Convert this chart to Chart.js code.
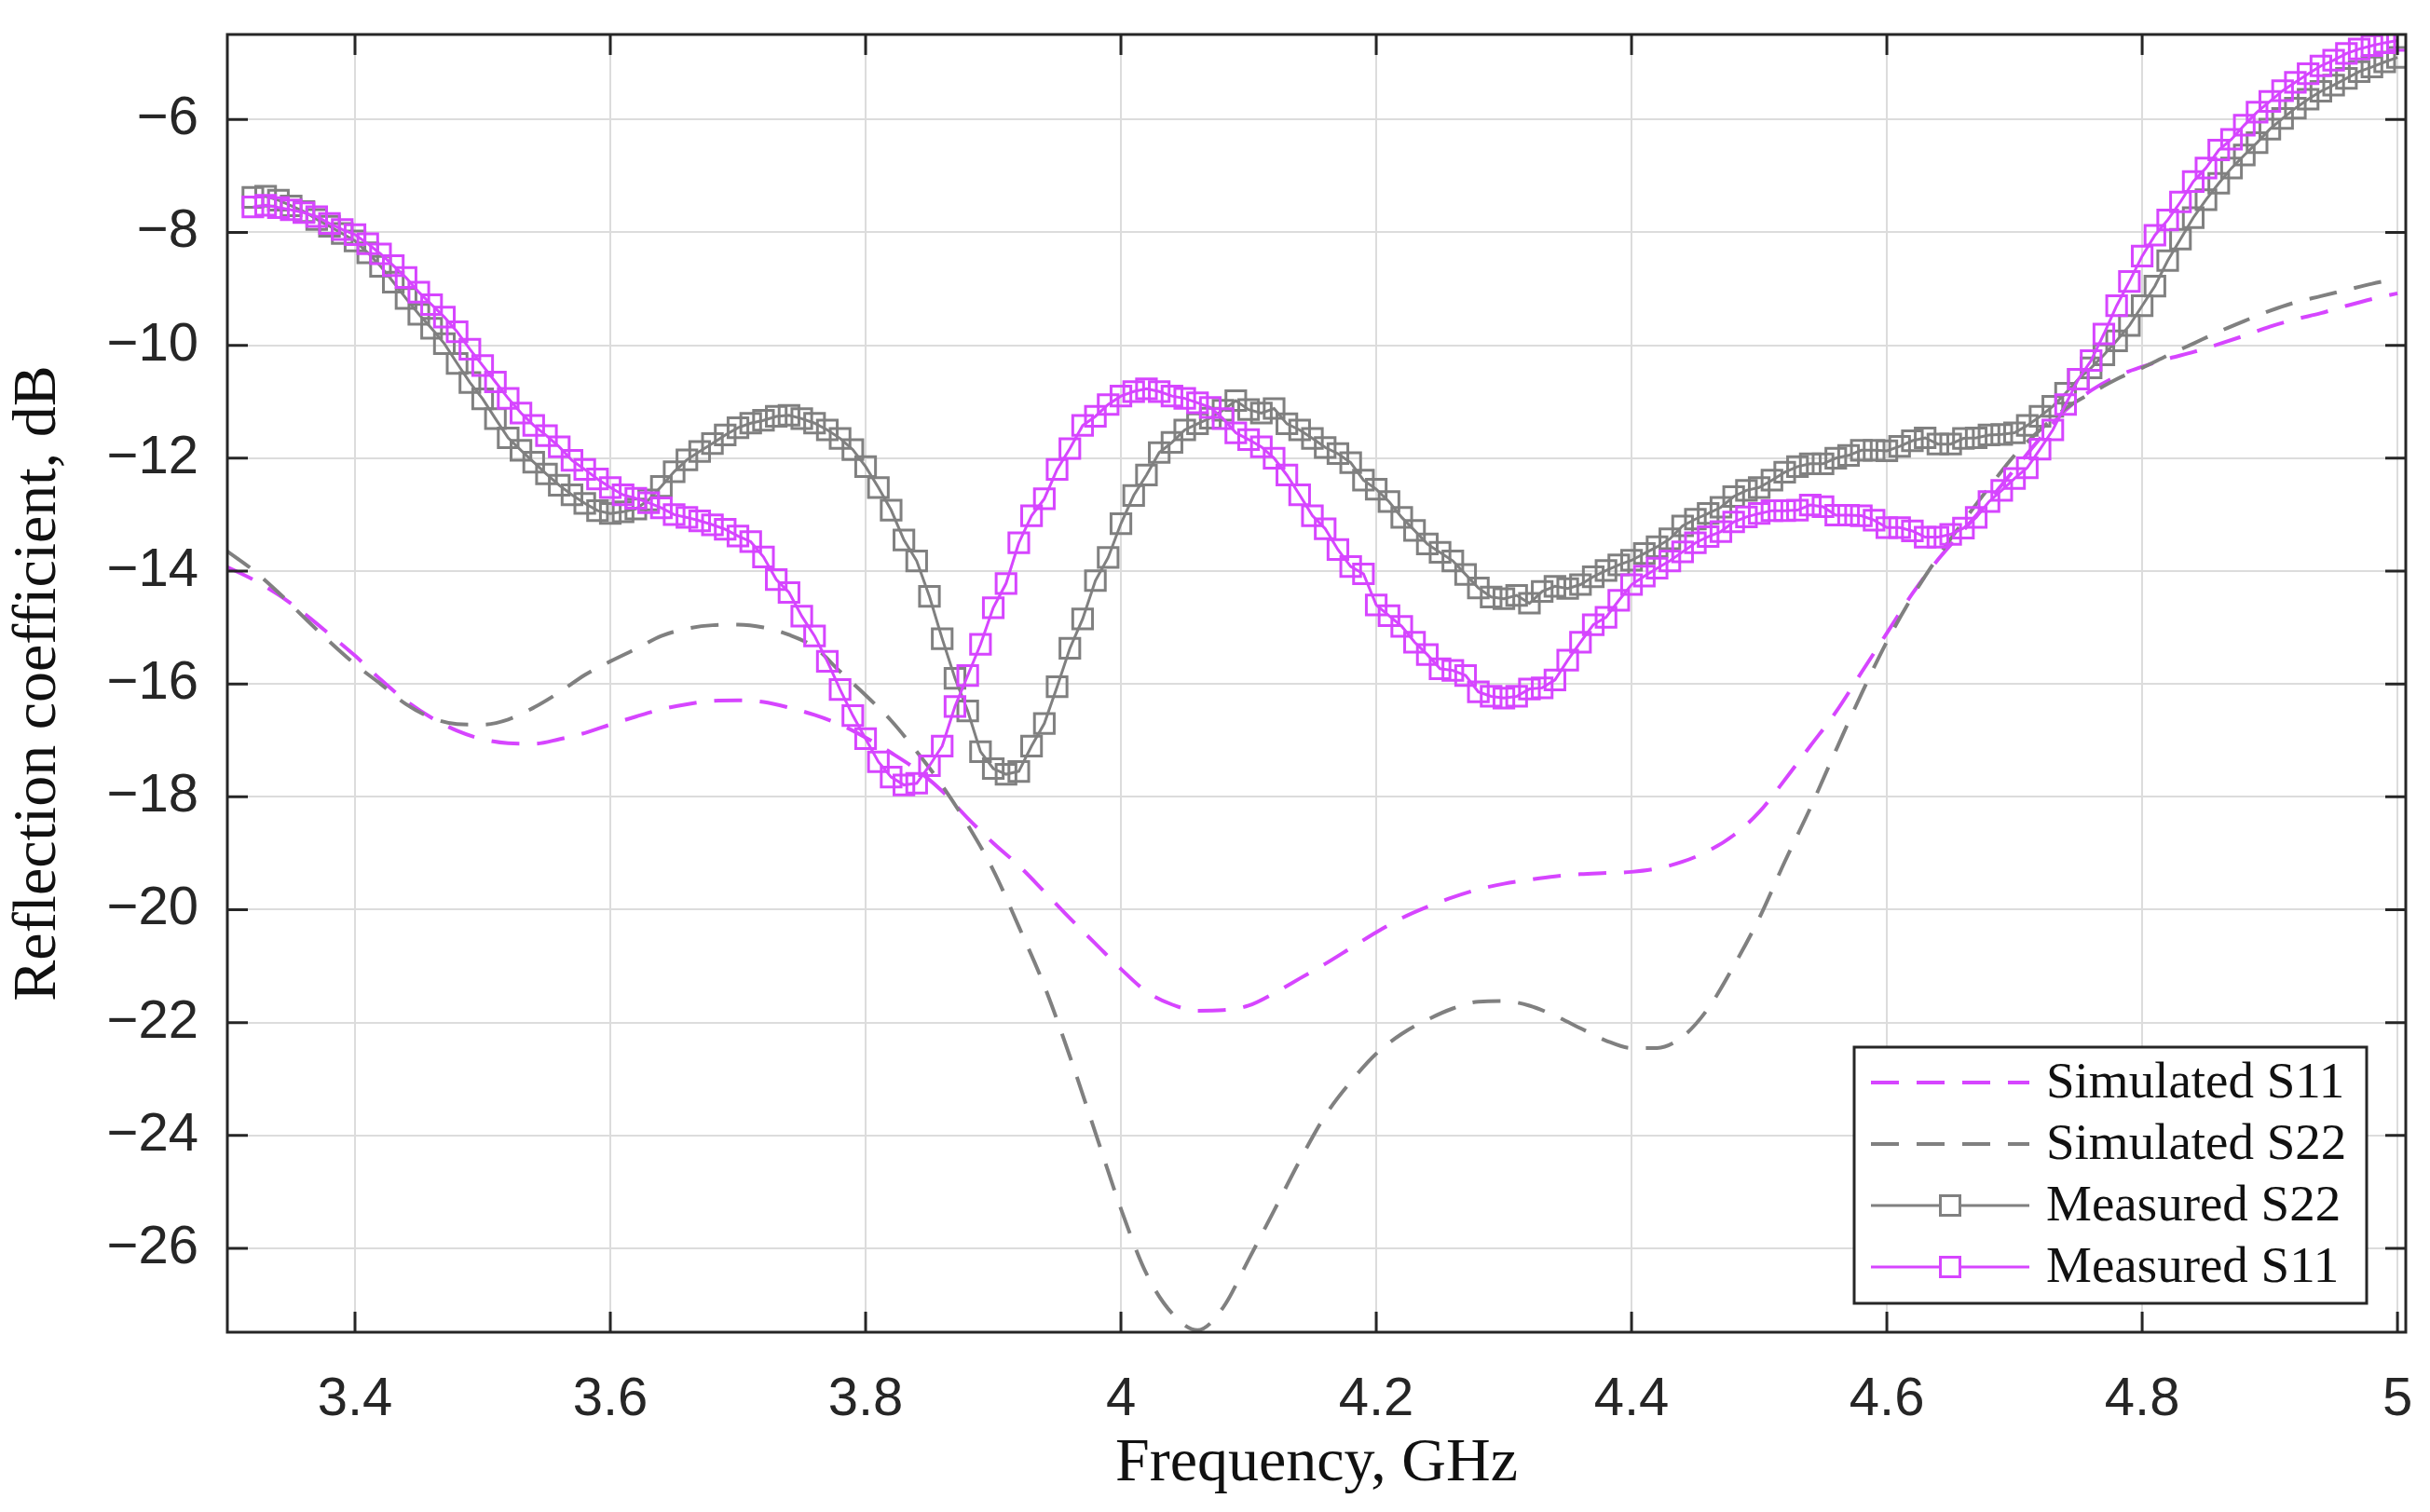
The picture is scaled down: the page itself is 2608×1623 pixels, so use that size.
<!DOCTYPE html>
<html><head><meta charset="utf-8">
<script src="https://cdn.jsdelivr.net/npm/chart.js@4.4.1/dist/chart.umd.min.js"></script>
<style>html,body{margin:0;padding:0;background:#fff;}#wrap{width:2608px;height:1623px;}</style>
</head><body><div id="wrap"><canvas id="c" width="2608" height="1623"></canvas></div>
<script>
// ---------- data ----------
const freqSim = [3.30,3.32,3.34,3.36,3.38,3.40,3.42,3.44,3.46,3.48,
3.50,3.52,3.54,3.56,3.58,3.60,3.62,3.64,3.66,3.68,
3.70,3.72,3.74,3.76,3.78,3.80,3.82,3.84,3.86,3.88,
3.90,3.92,3.94,3.96,3.98,4.00,4.02,4.04,4.06,4.08,
4.10,4.12,4.14,4.16,4.18,4.20,4.22,4.24,4.26,4.28,
4.30,4.32,4.34,4.36,4.38,4.40,4.42,4.44,4.46,4.48,
4.50,4.52,4.54,4.56,4.58,4.60,4.62,4.64,4.66,4.68,
4.70,4.72,4.74,4.76,4.78,4.80,4.82,4.84,4.86,4.88,
4.90,4.92,4.94,4.96,4.98,5.00];
const simS11 = [-13.93,-14.15,-14.42,-14.75,-15.12,-15.50,-15.92,-16.30,-16.60,-16.83,
-16.98,-17.05,-17.06,-16.98,-16.87,-16.72,-16.58,-16.45,-16.36,-16.30,
-16.29,-16.32,-16.42,-16.55,-16.72,-16.95,-17.22,-17.52,-17.90,-18.38,
-18.82,-19.22,-19.68,-20.15,-20.60,-21.05,-21.45,-21.68,-21.79,-21.78,
-21.70,-21.48,-21.22,-20.96,-20.68,-20.40,-20.15,-19.95,-19.78,-19.64,
-19.54,-19.47,-19.41,-19.37,-19.35,-19.33,-19.27,-19.15,-18.96,-18.68,
-18.27,-17.70,-17.10,-16.50,-15.80,-15.10,-14.40,-13.80,-13.28,-12.75,
-12.20,-11.65,-11.15,-10.80,-10.55,-10.38,-10.24,-10.12,-9.98,-9.83,
-9.67,-9.54,-9.43,-9.30,-9.18,-9.08];
const simS22 = [-13.65,-13.98,-14.38,-14.82,-15.25,-15.65,-16.00,-16.36,-16.60,-16.71,
-16.72,-16.63,-16.42,-16.15,-15.84,-15.60,-15.38,-15.15,-15.02,-14.96,
-14.95,-15.00,-15.13,-15.35,-15.78,-16.20,-16.65,-17.20,-17.80,-18.50,
-19.30,-20.30,-21.35,-22.60,-23.95,-25.30,-26.45,-27.15,-27.45,-27.05,
-26.20,-25.33,-24.45,-23.65,-23.05,-22.55,-22.20,-21.95,-21.75,-21.63,
-21.62,-21.70,-21.88,-22.10,-22.32,-22.45,-22.45,-22.25,-21.75,-21.00,
-20.15,-19.15,-18.20,-17.18,-16.18,-15.25,-14.45,-13.75,-13.12,-12.52,
-11.95,-11.50,-11.12,-10.85,-10.60,-10.40,-10.18,-9.97,-9.76,-9.57,
-9.39,-9.24,-9.13,-9.02,-8.91,-8.82];

const freqMeas = [3.32,3.33,3.34,3.35,3.36,3.37,3.38,3.39,
3.40,3.41,3.42,3.43,3.44,3.45,3.46,3.47,3.48,3.49,
3.50,3.51,3.52,3.53,3.54,3.55,3.56,3.57,3.58,3.59,
3.60,3.61,3.62,3.63,3.64,3.65,3.66,3.67,3.68,3.69,
3.70,3.71,3.72,3.73,3.74,3.75,3.76,3.77,3.78,3.79,
3.80,3.81,3.82,3.83,3.84,3.85,3.86,3.87,3.88,3.89,
3.90,3.91,3.92,3.93,3.94,3.95,3.96,3.97,3.98,3.99,
4.00,4.01,4.02,4.03,4.04,4.05,4.06,4.07,4.08,4.09,
4.10,4.11,4.12,4.13,4.14,4.15,4.16,4.17,4.18,4.19,
4.20,4.21,4.22,4.23,4.24,4.25,4.26,4.27,4.28,4.29,
4.30,4.31,4.32,4.33,4.34,4.35,4.36,4.37,4.38,4.39,
4.40,4.41,4.42,4.43,4.44,4.45,4.46,4.47,4.48,4.49,
4.50,4.51,4.52,4.53,4.54,4.55,4.56,4.57,4.58,4.59,
4.60,4.61,4.62,4.63,4.64,4.65,4.66,4.67,4.68,4.69,
4.70,4.71,4.72,4.73,4.74,4.75,4.76,4.77,4.78,4.79,
4.80,4.81,4.82,4.83,4.84,4.85,4.86,4.87,4.88,4.89,
4.90,4.91,4.92,4.93,4.94,4.95,4.96,4.97,4.98,4.99,
5.00];
const measS11 = [-7.55,-7.52,-7.56,-7.60,-7.65,-7.72,-7.84,-7.95,
-8.04,-8.20,-8.38,-8.59,-8.80,-9.06,-9.28,-9.50,-9.76,-10.07,
-10.36,-10.65,-10.94,-11.20,-11.42,-11.60,-11.80,-12.04,-12.20,-12.37,
-12.52,-12.65,-12.71,-12.79,-12.88,-13.00,-13.05,-13.11,-13.18,-13.26,
-13.38,-13.48,-13.75,-14.15,-14.38,-14.80,-15.15,-15.60,-16.10,-16.56,
-16.97,-17.38,-17.65,-17.79,-17.76,-17.45,-17.10,-16.40,-15.85,-15.30,
-14.65,-14.22,-13.50,-13.02,-12.72,-12.20,-11.83,-11.42,-11.26,-11.05,
-10.90,-10.82,-10.77,-10.82,-10.90,-10.94,-11.02,-11.10,-11.30,-11.55,
-11.67,-11.80,-12.00,-12.30,-12.65,-13.02,-13.25,-13.62,-13.92,-14.05,
-14.60,-14.79,-14.98,-15.26,-15.48,-15.73,-15.76,-15.85,-16.14,-16.22,
-16.25,-16.22,-16.09,-16.07,-15.93,-15.58,-15.26,-14.95,-14.82,-14.52,
-14.24,-14.09,-13.95,-13.82,-13.66,-13.50,-13.39,-13.30,-13.13,-13.04,
-12.98,-12.93,-12.93,-12.92,-12.83,-12.86,-13.01,-13.01,-13.02,-13.10,
-13.23,-13.23,-13.29,-13.40,-13.40,-13.35,-13.24,-13.05,-12.77,-12.57,
-12.36,-12.17,-11.84,-11.50,-11.05,-10.60,-10.27,-9.80,-9.30,-8.87,
-8.42,-8.05,-7.78,-7.46,-7.10,-6.86,-6.54,-6.35,-6.10,-5.87,
-5.68,-5.49,-5.34,-5.19,-5.05,-4.95,-4.83,-4.75,-4.69,-4.64,
-4.60];
const measS22 = [-7.38,-7.36,-7.43,-7.53,-7.63,-7.77,-7.89,-8.02,
-8.15,-8.36,-8.60,-8.88,-9.17,-9.45,-9.70,-9.97,-10.32,-10.66,
-10.95,-11.30,-11.64,-11.86,-12.07,-12.28,-12.48,-12.65,-12.80,-12.93,
-12.98,-12.95,-12.90,-12.74,-12.50,-12.24,-12.03,-11.88,-11.74,-11.59,
-11.46,-11.38,-11.33,-11.26,-11.24,-11.30,-11.38,-11.50,-11.65,-11.85,
-12.15,-12.52,-12.92,-13.45,-13.82,-14.45,-15.20,-15.90,-16.48,-17.20,
-17.50,-17.60,-17.55,-17.10,-16.70,-16.05,-15.37,-14.85,-14.17,-13.76,
-13.16,-12.66,-12.30,-11.90,-11.72,-11.50,-11.39,-11.29,-11.15,-10.98,
-11.14,-11.20,-11.12,-11.39,-11.50,-11.65,-11.81,-11.92,-12.08,-12.39,
-12.55,-12.77,-13.05,-13.28,-13.52,-13.67,-13.82,-14.06,-14.30,-14.46,
-14.49,-14.43,-14.57,-14.36,-14.27,-14.31,-14.24,-14.10,-13.99,-13.89,
-13.81,-13.69,-13.57,-13.43,-13.20,-13.08,-12.98,-12.87,-12.68,-12.57,
-12.52,-12.39,-12.25,-12.15,-12.10,-12.10,-12.00,-11.95,-11.86,-11.86,
-11.87,-11.79,-11.69,-11.64,-11.75,-11.75,-11.65,-11.64,-11.59,-11.58,
-11.55,-11.42,-11.26,-11.08,-10.85,-10.60,-10.40,-10.17,-9.92,-9.65,
-9.30,-8.95,-8.50,-8.12,-7.74,-7.42,-7.13,-6.86,-6.63,-6.41,
-6.17,-5.98,-5.80,-5.64,-5.50,-5.39,-5.27,-5.15,-5.07,-4.98,
-4.90];

const xTicks = [3.4,3.6,3.8,4,4.2,4.4,4.6,4.8,5];
const yTicks = [-26,-24,-22,-20,-18,-16,-14,-12,-10,-8,-6];
const seriesLabels = ['Simulated S11','Simulated S22','Measured S22','Measured S11'];
const xTitle = 'Frequency, GHz';
const yTitle = 'Reflection coefficient, dB';

// ---------- styles ----------
const MAGENTA = '#d645ff';
const GRAY = '#808080';
const INK = '#262626';
const SANS = '"Liberation Sans", Arial, Helvetica, sans-serif';
const SERIF = '"Liberation Serif", "Times New Roman", serif';

const pts = (xs, ys) => xs.map((x, i) => ({x: x, y: ys[i]}));

const datasets = [
  {label: seriesLabels[0], data: pts(freqSim, simS11), borderColor: MAGENTA, borderWidth: 4,
   borderDash: [30, 19], pointRadius: 0, cubicInterpolationMode: 'monotone', order: 4, kind: 'dash'},
  {label: seriesLabels[1], data: pts(freqSim, simS22), borderColor: GRAY, borderWidth: 4,
   borderDash: [30, 19], pointRadius: 0, cubicInterpolationMode: 'monotone', order: 3, kind: 'dash'},
  {label: seriesLabels[2], data: pts(freqMeas, measS22), borderColor: GRAY, borderWidth: 3,
   pointStyle: 'rect', pointRadius: 15, pointBorderWidth: 3, pointBorderColor: GRAY,
   pointBackgroundColor: 'rgba(0,0,0,0)', tension: 0, order: 2, kind: 'mark'},
  {label: seriesLabels[3], data: pts(freqMeas, measS11), borderColor: MAGENTA, borderWidth: 3,
   pointStyle: 'rect', pointRadius: 15, pointBorderWidth: 3, pointBorderColor: MAGENTA,
   pointBackgroundColor: 'rgba(0,0,0,0)', tension: 0, order: 1, kind: 'mark'}
];

const framePlugin = {
  id: 'frame',
  afterDatasetsDraw(chart) {
    const {ctx, chartArea: a, scales: {x, y}} = chart;
    ctx.save();
    ctx.strokeStyle = INK;
    ctx.lineWidth = 3;
    ctx.strokeRect(a.left, a.top, a.right - a.left, a.bottom - a.top);
    const L = 22;
    ctx.beginPath();
    xTicks.forEach(v => {
      const px = x.getPixelForValue(v);
      ctx.moveTo(px, a.bottom); ctx.lineTo(px, a.bottom - L);
      ctx.moveTo(px, a.top); ctx.lineTo(px, a.top + L);
    });
    yTicks.forEach(v => {
      const py = y.getPixelForValue(v);
      ctx.moveTo(a.left, py); ctx.lineTo(a.left + L, py);
      ctx.moveTo(a.right, py); ctx.lineTo(a.right - L, py);
    });
    ctx.stroke();
    ctx.restore();
  },
  afterDraw(chart) {
    const {ctx, chartArea: a} = chart;
    const w = 550, h = 275;
    const left = a.right - 42 - w, top = a.bottom - 31 - h;
    ctx.save();
    ctx.fillStyle = '#fff';
    ctx.fillRect(left, top, w, h);
    ctx.strokeStyle = INK;
    ctx.lineWidth = 3;
    ctx.strokeRect(left, top, w, h);
    chart.data.datasets.forEach((ds, i) => {
      const yy = top + 38 + i * 66;
      const x0 = left + 18, x1 = left + 188;
      ctx.strokeStyle = ds.borderColor;
      ctx.lineWidth = ds.borderWidth;
      ctx.setLineDash(ds.kind === 'dash' ? ds.borderDash : []);
      ctx.beginPath(); ctx.moveTo(x0, yy); ctx.lineTo(x1, yy); ctx.stroke();
      ctx.setLineDash([]);
      if (ds.kind === 'mark') {
        const s = 21;
        ctx.lineWidth = ds.pointBorderWidth;
        ctx.fillStyle = '#fff';
        ctx.fillRect((x0 + x1) / 2 - s / 2, yy - s / 2, s, s);
        ctx.strokeRect((x0 + x1) / 2 - s / 2, yy - s / 2, s, s);
      }
      ctx.fillStyle = '#111';
      ctx.font = '55px ' + SERIF;
      ctx.textBaseline = 'middle';
      ctx.textAlign = 'left';
      ctx.fillText(ds.label, left + 206, yy + 2);
    });
    ctx.restore();
  }
};

const minus = v => (v < 0 ? '\u2212' + Math.abs(v) : String(v));

new Chart(document.getElementById('c'), {
  type: 'line',
  data: {datasets: datasets},
  options: {
    responsive: false,
    animation: false,
    devicePixelRatio: 1,
    layout: {padding: {top: 37, right: 26, left: 0, bottom: 0}},
    plugins: {legend: {display: false}, tooltip: {enabled: false}},
    scales: {
      x: {
        type: 'linear', min: 3.3, max: 5.0065,
        afterBuildTicks: s => { s.ticks = xTicks.map(v => ({value: v})); },
        afterFit: s => { s.height = 193; s.paddingLeft = 0; s.paddingRight = 0; },
        ticks: {autoSkip: false, maxRotation: 0, padding: 38, color: INK,
                font: {family: SANS, size: 58}, callback: v => String(v)},
        grid: {color: '#dcdcdc', lineWidth: 2, drawTicks: false},
        border: {display: false},
        title: {display: true, text: xTitle, color: '#111',
                font: {family: SERIF, size: 66}, padding: {top: 0, bottom: 12}}
      },
      y: {
        type: 'linear', min: -27.486, max: -4.493,
        afterBuildTicks: s => { s.ticks = yTicks.map(v => ({value: v})); },
        afterFit: s => { s.width = 244; s.paddingTop = 0; s.paddingBottom = 0; },
        ticks: {autoSkip: false, padding: 31, color: INK,
                font: {family: SANS, size: 58}, callback: v => minus(v)},
        grid: {color: '#dcdcdc', lineWidth: 2, drawTicks: false},
        border: {display: false},
        title: {display: true, text: yTitle, color: '#111',
                font: {family: SERIF, size: 66}, padding: {top: 2, bottom: 0}}
      }
    }
  },
  plugins: [framePlugin]
});
</script>
</body></html>
